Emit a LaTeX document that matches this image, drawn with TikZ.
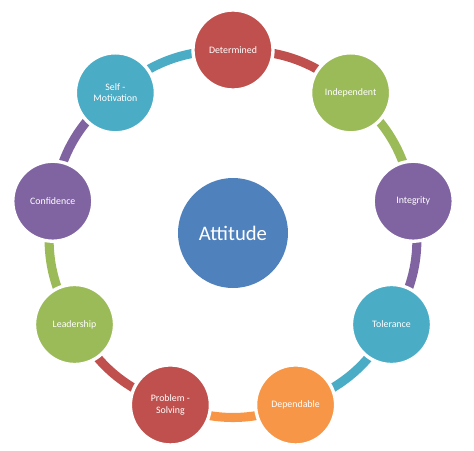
\documentclass[tikz,border=0pt]{standalone}
\usepackage{fontspec}
\setmainfont{Carlito}
\usetikzlibrary{backgrounds}
\definecolor{attred}{HTML}{C0504D}
\definecolor{attgreen}{HTML}{9BBB59}
\definecolor{attpurple}{HTML}{8064A2}
\definecolor{attteal}{HTML}{4BACC6}
\definecolor{attorange}{HTML}{F79646}
\definecolor{attblue}{HTML}{4F81BD}

\begin{document}
\begin{tikzpicture}[x=0.75pt,y=0.75pt,
		trait/.style={circle, draw=white, line width=2.5pt, minimum size=60pt, inner sep=0pt,
			text=white, align=center, font=\fontsize{7.4}{8.6}\selectfont},
		link/.style={line width=6.8pt}]
				\useasboundingbox (-233,-217) rectangle (241,233);
				
				\node[circle, fill=attblue, minimum size=82.5pt, inner sep=0pt, text=white,
					font=\fontsize{15.5}{18}\selectfont] (attitude) at (0,0) {Attitude};
				
				\node[trait, fill=attred] (determined) at (90:183) {Determined};
				\node[trait, fill=attgreen] (independent) at (50:183) {Independent};
				\node[trait, fill=attpurple] (integrity) at (10:183) {Integrity};
				\node[trait, fill=attteal] (tolerance) at (-30:183) {Tolerance};
				\node[trait, fill=attorange] (dependable) at (-70:183) {Dependable};
				\node[trait, fill=attred] (problem) at (-110:183) {Problem -\\Solving};
				\node[trait, fill=attgreen] (leadership) at (-150:183) {Leadership};
				\node[trait, fill=attpurple] (confidence) at (170:183) {Confidence};
				\node[trait, fill=attteal] (selfmot) at (130:183) {Self -\\Motivation};
				
				% ring pieces sit under the circles
				\begin{scope}[on background layer]
				\draw[link, attred] (determined.center) to[bend left=20] (independent.center);
				\draw[link, attgreen] (independent.center) to[bend left=20] (integrity.center);
				\draw[link, attpurple] (integrity.center) to[bend left=20] (tolerance.center);
				\draw[link, attteal] (tolerance.center) to[bend left=20] (dependable.center);
				\draw[link, attorange] (dependable.center) to[bend left=20] (problem.center);
				\draw[link, attred] (problem.center) to[bend left=20] (leadership.center);
				\draw[link, attgreen] (leadership.center) to[bend left=20] (confidence.center);
				\draw[link, attpurple] (confidence.center) to[bend left=20] (selfmot.center);
				\draw[link, attteal] (selfmot.center) to[bend left=20] (determined.center);
				\end{scope}
			\end{tikzpicture}
\end{document}
